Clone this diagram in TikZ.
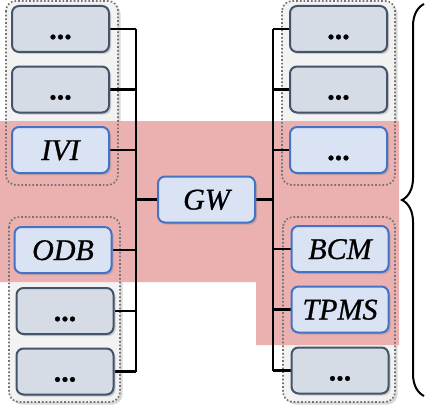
\documentclass[tikz,border=0pt]{standalone}
\usepackage{fontspec}
\setmainfont{Liberation Serif}
\newfontfamily\ecufont[FakeBold=0.8]{Liberation Serif}
\usetikzlibrary{shadows,decorations.pathreplacing}
\definecolor{bandred}{RGB}{235,177,177}
\definecolor{grpfill}{RGB}{242,242,242}
\definecolor{grpline}{RGB}{115,115,115}
\definecolor{gboxfill}{RGB}{214,220,229}
\definecolor{gboxline}{RGB}{68,84,106}
\definecolor{bboxfill}{RGB}{218,227,243}
\definecolor{bboxline}{RGB}{68,114,196}
\pgfdeclarelayer{back}
\pgfdeclarelayer{mid}
\pgfsetlayers{back,mid,main}
\tikzset{
  ecubox/.style={rounded corners=7pt, line width=2pt, minimum width=97pt, minimum height=46pt,
    inner sep=0pt, text height=22pt, text depth=2pt,
    font=\ecufont\fontsize{30}{32}\selectfont\itshape,
    drop shadow={opacity=0.35, shadow xshift=2pt, shadow yshift=-2pt}},
  grayecu/.style={ecubox, draw=gboxline, fill=gboxfill},
  blueecu/.style={ecubox, draw=bboxline, fill=bboxfill},
  grpbg/.style={rounded corners=10pt, fill=grpfill, drop shadow={opacity=0.3, shadow xshift=2.5pt, shadow yshift=-2.5pt}},
  grpborder/.style={rounded corners=10pt, draw=grpline, line width=1.7pt, dotted},
  bus/.style={line width=2.2pt, black},
}
\newcommand{\dotsx}{\upshape\bfseries ...}
\begin{document}
\begin{tikzpicture}[x=1pt,y=-1pt]
\useasboundingbox (0,0) rectangle (425,404);
\begin{pgfonlayer}{back}
% group backgrounds
\path[grpbg] (6,1) rectangle (118,185);
\path[grpbg] (9,217) rectangle (120,402);
\path[grpbg] (282,1) rectangle (395,185);
\path[grpbg] (283,217) rectangle (395,402);
% red band
\fill[bandred] (0,121) -- (399,121) -- (399,345) -- (256,345) -- (256,282) -- (0,282) -- cycle;
% group borders
\draw[grpborder] (6,1) rectangle (118,185);
\draw[grpborder] (9,217) rectangle (120,402);
\draw[grpborder] (282,1) rectangle (395,185);
\draw[grpborder] (283,217) rectangle (395,402);
\end{pgfonlayer}
% bus coordinates
\coordinate (ltop) at (136,29);
\coordinate (lbot) at (136,371.5);
\coordinate (rtop) at (273,29);
\coordinate (rbot) at (273,370.5);
% nodes
\node[grayecu] (L1) at (60.5,29) {\dotsx};
\node[grayecu] (L2) at (60.5,89.5) {\dotsx};
\node[blueecu] (IVI) at (60.5,150) {IVI};
\node[blueecu] (ODB) at (63,250) {ODB};
\node[grayecu] (L5) at (65,311) {\dotsx};
\node[grayecu] (L6) at (65,371.5) {\dotsx};
\node[blueecu] (GW) at (206.5,199.5) {GW};
\node[grayecu] (R1) at (338.5,29) {\dotsx};
\node[grayecu] (R2) at (338.5,89.5) {\dotsx};
\node[blueecu] (R3) at (338.5,150) {\dotsx};
\node[blueecu] (BCM) at (340,249) {BCM};
\node[blueecu] (TPMS) at (340,309.5) {TPMS};
\node[grayecu] (R6) at (340,370.5) {\dotsx};
% connectors
\begin{pgfonlayer}{mid}
\draw[bus] (ltop) -- (lbot);
\draw[bus] (rtop) -- (rbot);
\foreach \n in {L1,L2,IVI,ODB,L5,L6}{
  \draw[bus] (\n.east) -- (\n.east -| ltop);
}
\draw[bus] (GW.west) -- (GW.west -| ltop);
\draw[bus] (GW.east) -- (GW.east -| rtop);
\foreach \n in {R1,R2,R3,BCM,TPMS,R6}{
  \draw[bus] (\n.west) -- (\n.west -| rtop);
}
\end{pgfonlayer}
% brace
\coordinate (bb) at (424,396);
\coordinate (bt) at (424,4);
\draw[line width=2pt, decorate, decoration={brace, amplitude=22pt}] (bb) -- (bt);
\end{tikzpicture}
\end{document}
